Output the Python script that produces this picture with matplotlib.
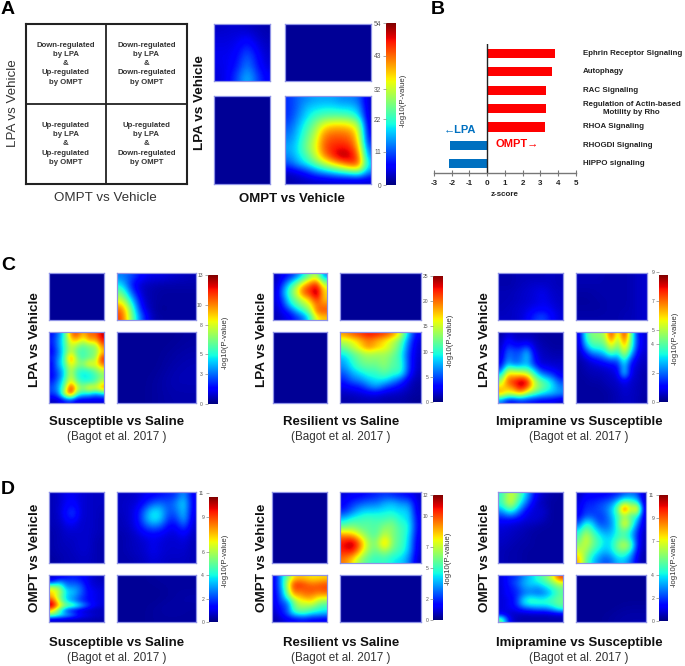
"""Recreates the LPA / OMPT rank-rank heatmap figure (panels A-D)."""
import numpy as np
import matplotlib
matplotlib.use("Agg")
import matplotlib.pyplot as plt

plt.rcParams["font.family"] = ["Liberation Sans", "DejaVu Sans"]
plt.rcParams["axes.unicode_minus"] = False

W, H = 685, 666
BORDER = "#8f93e6"
DARK = "#222222"

# heatmap cells are read as % of the colour bar height, rows top to bottom
NAVY = [[2, 2], [2, 2]]

A_TL = [[6, 7, 7, 6, 5, 4], [8, 8, 9, 11, 7, 5], [9, 9, 11, 17, 10, 6],
        [10, 10, 13, 23, 13, 7], [9, 10, 15, 26, 15, 8], [8, 11, 20, 32, 20, 11]]
A_BR = [[17, 23, 26, 29, 29, 29, 26, 26, 23, 7], [17, 23, 32, 34, 36, 36, 34, 34, 29, 7],
        [17, 26, 34, 42, 45, 46, 46, 44, 36, 7], [20, 29, 40, 50, 62, 66, 66, 64, 54, 8],
        [23, 32, 44, 56, 74, 78, 78, 76, 62, 10], [26, 34, 48, 60, 80, 84, 84, 82, 66, 13],
        [29, 36, 50, 62, 82, 88, 90, 88, 72, 20], [26, 34, 44, 58, 76, 88, 98, 94, 80, 26],
        [20, 29, 36, 46, 56, 66, 74, 84, 84, 34], [7, 10, 15, 23, 29, 34, 40, 44, 50, 26],
        [4, 5, 6, 7, 7, 8, 8, 8, 8, 8]]

C1_TR = [[25, 20, 12, 9, 9, 7, 6, 5], [36, 13, 6, 5, 4, 4, 4, 4], [50, 20, 6, 4, 3, 3, 3, 3],
         [62, 34, 8, 4, 3, 3, 3, 3], [80, 45, 11, 4, 2, 3, 3, 3], [85, 50, 20, 5, 3, 3, 3, 3]]
C1_BL = [[13, 23, 40, 78, 85, 70, 82, 80, 95], [15, 26, 42, 68, 72, 60, 75, 72, 90],
         [13, 26, 40, 62, 52, 45, 50, 52, 78], [11, 23, 40, 60, 45, 42, 48, 50, 68],
         [15, 26, 42, 82, 50, 42, 48, 52, 90], [11, 29, 42, 68, 55, 52, 68, 62, 80],
         [13, 23, 36, 60, 42, 40, 42, 50, 60], [11, 20, 36, 62, 40, 34, 36, 42, 50],
         [15, 26, 42, 68, 48, 40, 40, 45, 60], [20, 29, 48, 95, 62, 52, 70, 62, 78],
         [17, 23, 60, 88, 45, 36, 34, 26, 32], [6, 7, 13, 17, 8, 8, 8, 8, 8]]
C1_BR = [[2, 2, 2, 2, 3], [2, 2, 2, 3, 4], [2, 2, 2, 4, 5], [2, 2, 3, 5, 5], [2, 2, 3, 4, 4]]

C2_TL = [[6, 11, 15, 23, 36, 50, 58, 26], [6, 15, 29, 42, 58, 72, 80, 48],
         [7, 23, 42, 58, 78, 86, 95, 65], [7, 26, 44, 60, 80, 85, 100, 68],
         [8, 20, 40, 50, 62, 72, 88, 70], [7, 15, 32, 44, 52, 62, 80, 78],
         [6, 11, 17, 29, 40, 52, 80, 82], [5, 8, 11, 17, 23, 40, 65, 70]]
C2_BR = [[75, 82, 85, 90, 88, 85, 78, 62, 29, 11], [58, 62, 70, 78, 72, 66, 58, 48, 23, 8],
         [48, 58, 66, 78, 70, 66, 56, 44, 20, 7], [36, 45, 52, 56, 54, 55, 50, 40, 17, 7],
         [29, 40, 48, 52, 50, 54, 46, 42, 17, 6], [26, 36, 44, 46, 46, 52, 44, 44, 17, 6],
         [20, 29, 34, 40, 40, 46, 40, 40, 15, 5], [15, 23, 26, 32, 36, 36, 29, 20, 8, 4],
         [10, 13, 15, 23, 29, 20, 15, 11, 6, 3], [6, 7, 8, 10, 11, 8, 7, 6, 4, 3],
         [4, 4, 5, 5, 5, 4, 4, 4, 3, 2]]

C3_TL = [[4, 4, 5, 5, 5, 5, 6, 5], [4, 4, 5, 6, 7, 7, 6, 5], [5, 5, 6, 7, 8, 10, 7, 6],
         [5, 5, 6, 7, 8, 10, 8, 6], [5, 6, 7, 8, 10, 11, 10, 7], [6, 6, 7, 10, 17, 20, 13, 8]]
C3_TR = [[5, 5, 5, 4, 4, 4, 5, 7], [4, 4, 4, 4, 4, 4, 5, 7], [3, 3, 4, 4, 4, 4, 5, 7],
         [3, 3, 3, 4, 4, 4, 5, 7], [4, 4, 4, 4, 4, 5, 5, 7]]
C3_BL = [[3, 8, 6, 5, 5, 4, 3, 3, 3, 3], [5, 13, 8, 7, 8, 6, 4, 3, 3, 3],
         [6, 17, 13, 13, 17, 8, 5, 4, 3, 3], [7, 23, 20, 20, 32, 11, 6, 5, 4, 4],
         [8, 26, 20, 23, 34, 15, 7, 6, 5, 5], [11, 32, 23, 26, 32, 17, 8, 8, 7, 7],
         [20, 55, 52, 48, 46, 34, 17, 13, 11, 8], [40, 75, 72, 75, 70, 48, 34, 26, 20, 11],
         [55, 82, 88, 98, 92, 62, 48, 42, 32, 20], [70, 70, 78, 92, 80, 60, 50, 42, 34, 26],
         [72, 60, 62, 68, 52, 44, 36, 32, 29, 26], [26, 13, 13, 17, 15, 13, 11, 11, 10, 7]]
C3_BR = [[8, 40, 52, 52, 56, 90, 55, 92, 50, 15, 8], [7, 36, 48, 48, 52, 78, 50, 82, 48, 17, 8],
         [6, 26, 40, 40, 44, 62, 44, 72, 44, 15, 8], [5, 13, 23, 26, 32, 44, 34, 58, 32, 11, 7],
         [4, 6, 10, 13, 17, 20, 20, 42, 17, 8, 6], [3, 5, 6, 7, 8, 10, 13, 34, 11, 7, 5],
         [3, 4, 5, 5, 6, 7, 10, 36, 10, 6, 4], [3, 3, 4, 4, 5, 6, 7, 13, 7, 6, 4],
         [3, 3, 3, 3, 4, 5, 6, 8, 7, 5, 4], [3, 3, 3, 3, 3, 4, 5, 7, 6, 5, 4],
         [3, 3, 3, 3, 3, 4, 5, 6, 6, 5, 3]]

D1_TL = [[5, 7, 10, 10, 8, 7, 6, 6], [5, 7, 11, 13, 8, 7, 6, 6], [5, 7, 15, 20, 8, 7, 6, 5],
         [5, 6, 10, 11, 7, 7, 6, 5], [4, 5, 7, 7, 7, 7, 6, 5], [4, 5, 6, 6, 7, 7, 5, 4],
         [4, 5, 5, 6, 7, 7, 5, 4], [3, 4, 5, 5, 6, 6, 5, 4]]
D1_TR = [[6, 6, 7, 10, 11, 13, 15, 17, 29, 10], [6, 7, 8, 13, 20, 23, 20, 26, 36, 11],
         [6, 7, 11, 23, 36, 34, 20, 23, 34, 10], [5, 7, 11, 26, 38, 34, 17, 17, 32, 8],
         [5, 6, 10, 17, 23, 20, 11, 11, 20, 7], [4, 5, 7, 10, 11, 10, 8, 8, 11, 6],
         [4, 5, 6, 7, 10, 8, 7, 7, 8, 5], [4, 5, 6, 7, 10, 8, 7, 7, 7, 5],
         [4, 4, 5, 6, 8, 7, 6, 6, 6, 5]]
D1_BL = [[6, 10, 13, 15, 13, 10, 6, 5], [17, 29, 20, 20, 17, 10, 7, 6], [55, 50, 26, 26, 23, 11, 8, 7],
         [68, 58, 34, 32, 23, 13, 10, 8], [72, 52, 32, 29, 20, 13, 10, 8], [88, 56, 34, 26, 17, 13, 10, 8],
         [98, 68, 50, 48, 34, 20, 11, 8], [70, 42, 17, 11, 7, 6, 5, 5], [50, 40, 32, 23, 13, 10, 7, 6],
         [6, 6, 5, 5, 5, 5, 4, 4]]
D1_BR = [[2, 2, 3, 3, 3], [2, 2, 2, 3, 3], [2, 2, 2, 3, 4], [2, 2, 3, 4, 3], [2, 2, 3, 3, 3]]

D2_TR = [[8, 10, 11, 13, 15, 17, 15, 13, 11, 7], [11, 17, 20, 23, 23, 29, 32, 26, 26, 8],
         [15, 23, 32, 34, 34, 36, 36, 34, 34, 8], [32, 40, 42, 44, 42, 42, 46, 36, 36, 11],
         [48, 52, 46, 46, 44, 52, 52, 42, 40, 11], [76, 72, 60, 48, 44, 60, 50, 44, 36, 10],
         [90, 100, 80, 55, 50, 78, 50, 44, 34, 8], [88, 92, 72, 52, 46, 56, 46, 42, 32, 8],
         [78, 68, 52, 44, 40, 42, 36, 34, 26, 6]]
D2_BL = [[11, 29, 48, 66, 70, 68, 66, 66, 68], [11, 29, 56, 84, 86, 82, 78, 80, 82],
         [11, 26, 52, 82, 82, 82, 84, 82, 84], [10, 23, 45, 70, 72, 78, 76, 72, 72],
         [10, 20, 26, 48, 62, 64, 68, 56, 52], [8, 15, 20, 44, 54, 52, 50, 44, 40],
         [6, 13, 20, 36, 42, 42, 36, 34, 32], [4, 7, 10, 11, 13, 13, 11, 11, 10]]

D3_TL = [[40, 62, 50, 32, 13, 6, 4, 3], [42, 66, 42, 23, 8, 5, 3, 3], [26, 42, 26, 10, 7, 8, 3, 3],
         [13, 13, 11, 8, 8, 6, 3, 3], [8, 7, 6, 5, 4, 3, 3, 3], [7, 6, 5, 4, 3, 3, 3, 3],
         [6, 5, 4, 4, 3, 3, 3, 3], [5, 4, 4, 3, 3, 3, 3, 3], [5, 4, 4, 3, 3, 3, 3, 3]]
D3_TR = [[6, 10, 11, 11, 11, 13, 15, 20, 23, 20, 6], [8, 15, 15, 17, 20, 23, 34, 48, 44, 36, 6],
         [10, 17, 17, 20, 23, 32, 50, 92, 60, 78, 8], [11, 20, 20, 17, 20, 29, 42, 52, 42, 40, 7],
         [20, 40, 34, 20, 20, 26, 42, 70, 50, 26, 7], [36, 52, 42, 32, 26, 29, 40, 48, 36, 17, 6],
         [44, 62, 50, 40, 34, 34, 42, 44, 34, 15, 5], [52, 60, 50, 42, 34, 36, 52, 62, 50, 15, 5],
         [62, 54, 42, 34, 29, 34, 44, 46, 34, 11, 4], [72, 48, 34, 26, 20, 23, 32, 32, 23, 8, 4]]
D3_BL = [[8, 15, 17, 26, 32, 40, 48, 60, 85], [8, 15, 20, 29, 34, 36, 42, 50, 62],
         [8, 13, 17, 26, 29, 26, 32, 40, 48], [8, 13, 15, 23, 26, 23, 26, 34, 46],
         [8, 10, 15, 32, 40, 36, 36, 42, 48], [8, 10, 15, 34, 40, 40, 40, 42, 48],
         [8, 10, 11, 17, 20, 23, 23, 29, 40], [11, 7, 6, 6, 6, 6, 6, 7, 8],
         [50, 11, 5, 4, 4, 4, 4, 4, 4]]
D3_BR = [[2, 2, 2, 2, 2], [2, 2, 2, 2, 2], [2, 2, 2, 2, 2], [2, 2, 2, 3, 3], [2, 2, 3, 4, 4]]

# colour bars
A_TICKS = [0, 11, 22, 32, 43, 54]
C1_TICKS = [0, 3, 5, 8, 10, 13]
C2_TICKS = [0, 5, 10, 15, 20, 25]
C3_TICKS = [0, 2, 4, 5, 7, 9]
D1_TICKS = [0, 2, 4, 6, 9, 11]
D2_TICKS = [0, 2, 5, 7, 10, 12]
D3_TICKS = [0, 2, 4, 7, 9, 11]

# panel B
pathways = ["Ephrin Receptor Signaling", "Autophagy", "RAC Signaling",
            "Regulation of Actin-based\nMotility by Rho", "RHOA Signaling",
            "RHOGDI Signaling", "HIPPO signaling"]
zscores = [3.83, 3.65, 3.35, 3.3, 3.27, -2.1, -2.15]

quad_labels = [["Down-regulated\nby LPA\n&\nUp-regulated\nby OMPT",
                "Down-regulated\nby LPA\n&\nDown-regulated\nby OMPT"],
               ["Up-regulated\nby LPA\n&\nUp-regulated\nby OMPT",
                "Up-regulated\nby LPA\n&\nDown-regulated\nby OMPT"]]

comparisons = ["Susceptible vs Saline", "Resilient vs Saline", "Imipramine vs Susceptible"]
CITATION = "(Bagot et al. 2017 )"


fig = plt.figure(figsize=(W / 100, H / 100), dpi=100)


def px_axes(x0, y0, x1, y1, **kw):
    return fig.add_axes([x0 / W, 1 - y1 / H, (x1 - x0) / W, (y1 - y0) / H], **kw)


def heat(box, cells, top):
    ax = px_axes(*box)
    # one repeated cell all round, then cropped, so the smoothing keeps clean edges
    vals = np.pad(np.array(cells, dtype=float) / 100 * top, 1, mode="edge")
    ax.imshow(vals, cmap="jet", vmin=0, vmax=top, aspect="auto", interpolation="bicubic")
    ax.set_xlim(0.5, vals.shape[1] - 1.5)
    ax.set_ylim(vals.shape[0] - 1.5, 0.5)
    ax.set_xticks([])
    ax.set_yticks([])
    for s in ax.spines.values():
        s.set_color(BORDER)
        s.set_linewidth(0.9)


def colorbar(x0, x1, y_tick_top, y_zero, ticks, grad_top, label_x, label_y, fs=3.6, label_fs=5.6):
    ax = px_axes(x0, y_tick_top, x1, y_zero)
    grad = np.linspace(grad_top, 0, 256)[:, None]
    ax.imshow(grad, cmap="jet", vmin=0, vmax=grad_top, aspect="auto",
              extent=[0, 1, 0, grad_top])
    ax.set_xlim(0, 1)
    ax.set_ylim(0, ticks[-1])
    ax.set_xticks([])
    ax.set_yticks(ticks)
    ax.tick_params(axis="y", length=2.5, width=0.5, color="#888888", labelcolor="#555555",
                   labelsize=fs, pad=1)
    for s in ax.spines.values():
        s.set_visible(False)
    page.text(label_x, label_y, "-log10(P-value)", rotation=90, ha="center", va="center",
              fontsize=label_fs, color="#333333")


page = px_axes(0, 0, W, H)
page.set_xlim(0, W)
page.set_ylim(H, 0)
page.axis("off")

for letter, x, y in [("A", 8, 9), ("B", 438, 9), ("C", 8, 265), ("D", 8, 489)]:
    page.text(x, y, letter, fontsize=14, fontweight="bold", ha="center", va="center", color="black")

# A: schematic
schem = px_axes(25.5, 23.5, 186.5, 184)
schem.set_xlim(0, 2)
schem.set_ylim(2, 0)
schem.axvline(1, color=DARK, lw=1.3)
schem.axhline(1, color=DARK, lw=1.3)
schem.set_xticks([])
schem.set_yticks([])
for s in schem.spines.values():
    s.set_color(DARK)
    s.set_linewidth(1.5)
for r, row in enumerate(quad_labels):
    for c, txt in enumerate(row):
        schem.text(c + 0.5, r + 0.5, txt, ha="center", va="center", fontsize=5.6,
                   fontweight="bold", color="#333333", linespacing=1.45)
page.text(13, 103, "LPA vs Vehicle", rotation=90, ha="center", va="center", fontsize=9.6, color="#333333")
page.text(105.5, 198, "OMPT vs Vehicle", ha="center", va="center", fontsize=9.6, color="#333333")

# A: heatmap
heat((213.5, 23.5, 270, 81), A_TL, 54)
heat((284.5, 23.5, 371, 81), NAVY, 54)
heat((213.5, 96, 270, 184), NAVY, 54)
heat((284.5, 96, 371, 184), A_BR, 54)
colorbar(386, 395.5, 23, 185, A_TICKS, 54, 403, 100, fs=4.8)
page.text(200, 103, "LPA vs Vehicle", rotation=90, ha="center", va="center", fontsize=9.7, fontweight="bold", color="#111111")
page.text(292, 199, "OMPT vs Vehicle", ha="center", va="center", fontsize=9.5, fontweight="bold", color="#111111")

# B: z-scores
bx = px_axes(434, 44, 575.7, 172.7)
ypos = np.arange(len(zscores))
bar_colors = ["#ff0000" if z > 0 else "#0070c0" for z in zscores]
bx.barh(ypos, zscores, height=0.5, color=bar_colors)
bx.set_xlim(-3, 5)
bx.set_ylim(6.49, -0.52)
bx.patch.set_alpha(0)
bx.axvline(0, color="#222222", lw=1)
for side in ["top", "left", "right"]:
    bx.spines[side].set_visible(False)
bx.spines["bottom"].set_color("#777777")
bx.spines["bottom"].set_linewidth(1)
bx.set_yticks([])
bx.set_xticks(range(-3, 6))
bx.tick_params(axis="x", direction="inout", length=5, width=0.8, color="#777777",
               labelsize=5.8, labelcolor="#222222", pad=3)
for lab in bx.get_xticklabels():
    lab.set_fontweight("bold")
for i, name in enumerate(pathways):
    bx.text(5.39, i, name, ha="left", va="center", fontsize=5.7, fontweight="bold",
            color="#222222", multialignment="center", clip_on=False, linespacing=1.25)
page.text(505, 195, "z-score", ha="center", va="center", fontsize=5.8, fontweight="bold", color="#222222")
page.text(460, 130, "←LPA", ha="center", va="center", fontsize=8, fontweight="bold", color="#0070c0")
page.text(517, 144, "OMPT→", ha="center", va="center", fontsize=8, fontweight="bold", color="#ff0000")

# C
c_top = (273.3, 320)
c_bot = (331.7, 403)
c_rows = [((48.5, 104), (117, 196), 13, (NAVY, C1_TR, C1_BL, C1_BR)),
          ((273, 327), (340, 421), 25, (C2_TL, NAVY, NAVY, C2_BR)),
          ((498, 562.7), (576, 646.7), 8.8, (C3_TL, C3_TR, C3_BL, C3_BR))]
for left, right, top, cells in c_rows:
    heat((left[0], c_top[0], left[1], c_top[1]), cells[0], top)
    heat((right[0], c_top[0], right[1], c_top[1]), cells[1], top)
    heat((left[0], c_bot[0], left[1], c_bot[1]), cells[2], top)
    heat((right[0], c_bot[0], right[1], c_bot[1]), cells[3], top)
colorbar(207.5, 217, 275, 404, C1_TICKS, 13, 225, 342)
colorbar(433, 442, 276, 402, C2_TICKS, 25, 450, 340)
colorbar(659, 668, 272, 401.7, C3_TICKS, 8.8, 675, 338)

# D
d_top = (491.7, 563.3)
d_bot = (575.3, 622)
d_rows = [((48.5, 104), (117, 196), 10.66, (D1_TL, D1_TR, D1_BL, D1_BR)),
          ((272, 326.5), (340, 420.7), 12.4, (NAVY, D2_TR, D2_BL, NAVY)),
          ((498, 562.7), (576, 646.3), 11.18, (D3_TL, D3_TR, D3_BL, D3_BR))]
for left, right, top, cells in d_rows:
    heat((left[0], d_top[0], left[1], d_top[1]), cells[0], top)
    heat((right[0], d_top[0], right[1], d_top[1]), cells[1], top)
    heat((left[0], d_bot[0], left[1], d_bot[1]), cells[2], top)
    heat((right[0], d_bot[0], right[1], d_bot[1]), cells[3], top)
colorbar(209, 217.5, 493.3, 622, D1_TICKS, 10.66, 225, 560.7)
colorbar(433, 442, 495, 619.7, D2_TICKS, 12.0, 447.7, 558)
colorbar(659, 668, 495, 621, D3_TICKS, 11.0, 674, 560)

for x, cx, title in zip([35, 262, 485], [117, 341, 579], comparisons):
    page.text(x, 340, "LPA vs Vehicle", rotation=90, ha="center", va="center", fontsize=9.7, fontweight="bold", color="#111111")
    page.text(x, 558, "OMPT vs Vehicle", rotation=90, ha="center", va="center", fontsize=9.7, fontweight="bold", color="#111111")
    for y_title, y_cite in [(422, 437), (643, 658)]:
        page.text(cx, y_title, title, ha="center", va="center", fontsize=9.5, fontweight="bold", color="#111111")
        page.text(cx, y_cite, CITATION, ha="center", va="center", fontsize=8.4, color="#333333")

fig.savefig("out.png", dpi=100)
